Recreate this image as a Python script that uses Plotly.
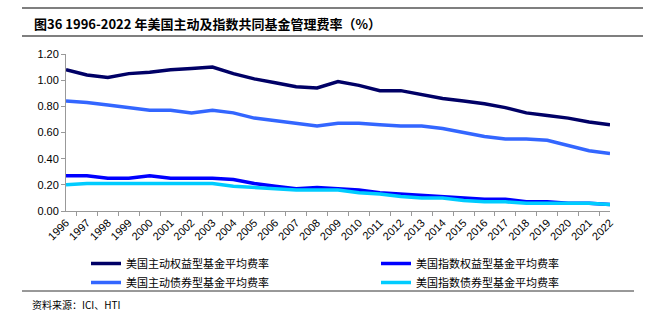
import plotly.graph_objects as go

years = [str(y) for y in range(1996, 2023)]
active_equity = [1.08, 1.04, 1.02, 1.05, 1.06, 1.08, 1.09, 1.10, 1.05, 1.01, 0.98, 0.95, 0.94,
                 0.99, 0.96, 0.92, 0.92, 0.89, 0.86, 0.84, 0.82, 0.79, 0.75, 0.73, 0.71, 0.68, 0.66]
index_equity = [0.27, 0.27, 0.25, 0.25, 0.27, 0.25, 0.25, 0.25, 0.24, 0.21, 0.19, 0.17, 0.18,
                0.17, 0.16, 0.14, 0.13, 0.12, 0.11, 0.10, 0.09, 0.09, 0.07, 0.07, 0.06, 0.06, 0.05]
active_bond = [0.84, 0.83, 0.81, 0.79, 0.77, 0.77, 0.75, 0.77, 0.75, 0.71, 0.69, 0.67, 0.65,
               0.67, 0.67, 0.66, 0.65, 0.65, 0.63, 0.60, 0.57, 0.55, 0.55, 0.54, 0.50, 0.46, 0.44]
index_bond = [0.20, 0.21, 0.21, 0.21, 0.21, 0.21, 0.21, 0.21, 0.19, 0.18, 0.17, 0.16, 0.16,
              0.16, 0.14, 0.13, 0.11, 0.10, 0.10, 0.08, 0.07, 0.07, 0.06, 0.06, 0.06, 0.06, 0.05]

series = [
    ("美国主动权益型基金平均费率", active_equity, "#000066", "legend"),
    ("美国指数权益型基金平均费率", index_equity, "#0000FF", "legend2"),
    ("美国主动债券型基金平均费率", active_bond, "#3366FF", "legend"),
    ("美国指数债券型基金平均费率", index_bond, "#00CCFF", "legend2"),
]

fig = go.Figure()
for name, vals, color, lg in series:
    fig.add_trace(go.Scatter(x=years, y=vals, name=name, mode="lines", legend=lg,
                             line=dict(color=color, width=3.5)))

CJK = "Noto Sans CJK SC"
PW, PH = 544, 157
legend_common = dict(orientation="v", yanchor="top", xanchor="left",
                     font=dict(family=CJK, size=11, color="#000"),
                     bgcolor="rgba(0,0,0,0)", tracegroupgap=0, itemwidth=30)
fig.update_layout(
    width=652, height=324,
    margin=dict(l=66, r=42, t=54, b=113, autoexpand=False),
    plot_bgcolor="white", paper_bgcolor="white",
    showlegend=True,
    legend=dict(x=(86 - 66) / PW, y=-(249 - 211) / PH, **legend_common),
    legend2=dict(x=(376 - 66) / PW, y=-(249 - 211) / PH, **legend_common),
    xaxis=dict(type="category", tickson="boundaries", ticks="outside", ticklen=4,
               tickcolor="#999", showline=True, linecolor="#999", showgrid=False,
               tickangle=-45, tickfont=dict(family="Arial", size=11, color="#000")),
    yaxis=dict(range=[0, 1.2], dtick=0.2, tickformat=".2f", ticks="outside", ticklen=4,
               tickcolor="#999", showline=True, linecolor="#999", showgrid=False,
               zeroline=False, tickfont=dict(family="Arial", size=11, color="#000")),
    annotations=[
        dict(text="<b>图36 1996-2022 年美国主动及指数共同基金管理费率（%）</b>",
             xref="paper", yref="paper", x=(32 - 66) / PW, y=1 + (54 - 23) / PH,
             xanchor="left", yanchor="middle", showarrow=False,
             font=dict(family=CJK, size=13, color="#000")),
        dict(text="资料来源：ICI、HTI",
             xref="paper", yref="paper", x=(30 - 66) / PW, y=-(304 - 211) / PH,
             xanchor="left", yanchor="middle", showarrow=False,
             font=dict(family=CJK, size=10, color="#000")),
    ],
    shapes=[
        dict(type="line", xref="paper", yref="paper", x0=(22 - 66) / PW, x1=(643 - 66) / PW,
             y0=1 + (54 - 8) / PH, y1=1 + (54 - 8) / PH, line=dict(color="#555", width=1.5)),
        dict(type="line", xref="paper", yref="paper", x0=(22 - 66) / PW, x1=(643 - 66) / PW,
             y0=1 + (54 - 36) / PH, y1=1 + (54 - 36) / PH, line=dict(color="#555", width=1.5)),
        dict(type="line", xref="paper", yref="paper", x0=(22 - 66) / PW, x1=(634 - 66) / PW,
             y0=-(291 - 211) / PH, y1=-(291 - 211) / PH, line=dict(color="#333", width=1)),
    ],
)

fig.write_html("out.html")
